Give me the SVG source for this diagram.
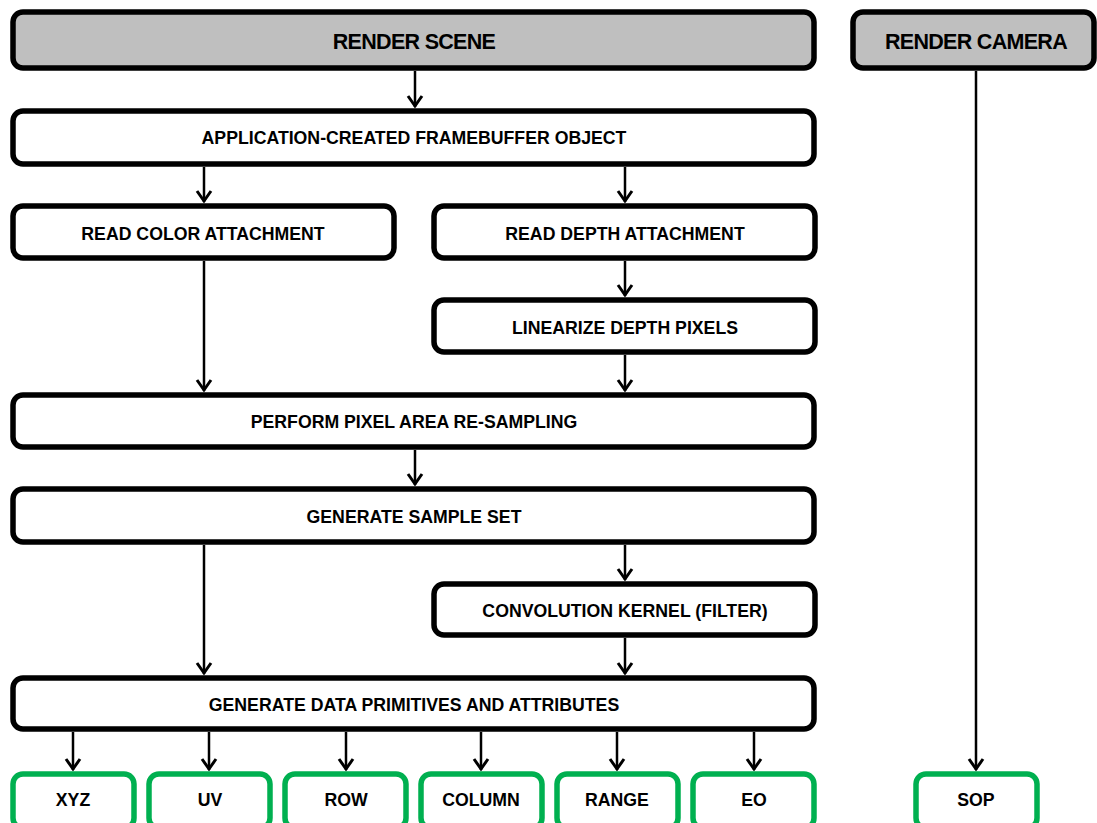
<svg xmlns="http://www.w3.org/2000/svg" width="1097" height="823" viewBox="0 0 1097 823">
<style>
.box{fill:#fff;stroke:#000;stroke-width:5.5}
.head{fill:#bfbfbf;stroke:#000;stroke-width:5.5}
.out{fill:#fff;stroke:#00b050;stroke-width:5.5}
.t{font-family:"Liberation Sans",Arial,sans-serif;font-weight:bold;font-size:17.7px;fill:#000;text-anchor:middle;dominant-baseline:central}
.th{font-family:"Liberation Sans",Arial,sans-serif;font-weight:bold;font-size:21.5px;fill:#000;text-anchor:middle;dominant-baseline:central;letter-spacing:-0.7px}
.c line{stroke:#000;stroke-width:2.5;fill:none;marker-end:url(#ah)}
</style>
<defs>
<marker id="ah" markerUnits="userSpaceOnUse" viewBox="-13 -9 15 18" refX="0" refY="0" markerWidth="15" markerHeight="18" orient="auto">
<path d="M-11,-7 L-1,0 L-11,7" fill="none" stroke="#000" stroke-width="3"/>
</marker>
</defs>
<g class="c" id="connectors">
<line x1="415" y1="71" x2="415" y2="107"/>
<line x1="204" y1="167" x2="204" y2="202"/>
<line x1="625" y1="167" x2="625" y2="202"/>
<line x1="625" y1="261" x2="625" y2="296"/>
<line x1="204" y1="261" x2="204" y2="391"/>
<line x1="625" y1="355" x2="625" y2="391"/>
<line x1="415" y1="450" x2="415" y2="485"/>
<line x1="204" y1="545" x2="204" y2="674"/>
<line x1="625" y1="545" x2="625" y2="580"/>
<line x1="625" y1="638" x2="625" y2="674"/>
<line x1="73" y1="732" x2="73" y2="770"/>
<line x1="209" y1="732" x2="209" y2="770"/>
<line x1="346" y1="732" x2="346" y2="770"/>
<line x1="481" y1="732" x2="481" y2="770"/>
<line x1="617" y1="732" x2="617" y2="770"/>
<line x1="754" y1="732" x2="754" y2="770"/>
<line x1="976" y1="71" x2="976" y2="770"/>
</g>
<g id="render-scene"><rect class="head" x="13" y="12" width="801" height="56" rx="10"/><text class="th" x="414" y="42">RENDER SCENE</text></g>
<g id="render-camera"><rect class="head" x="853" y="12" width="241" height="56" rx="10"/><text class="th" x="976" y="42">RENDER CAMERA</text></g>
<g id="framebuffer"><rect class="box" x="13" y="111" width="801" height="53" rx="10"/><text class="t" x="414" y="138">APPLICATION-CREATED FRAMEBUFFER OBJECT</text></g>
<g id="read-color"><rect class="box" x="13" y="206" width="381" height="52" rx="10"/><text class="t" x="203" y="234">READ COLOR ATTACHMENT</text></g>
<g id="read-depth"><rect class="box" x="434" y="206" width="381" height="52" rx="10"/><text class="t" x="625" y="234">READ DEPTH ATTACHMENT</text></g>
<g id="linearize"><rect class="box" x="434" y="300" width="381" height="52" rx="10"/><text class="t" x="625" y="328">LINEARIZE DEPTH PIXELS</text></g>
<g id="resample"><rect class="box" x="13" y="395" width="801" height="52" rx="10"/><text class="t" x="414" y="422">PERFORM PIXEL AREA RE-SAMPLING</text></g>
<g id="sample-set"><rect class="box" x="13" y="489" width="801" height="53" rx="10"/><text class="t" x="414" y="517">GENERATE SAMPLE SET</text></g>
<g id="convolution"><rect class="box" x="434" y="584" width="381" height="51" rx="10"/><text class="t" x="625" y="611">CONVOLUTION KERNEL (FILTER)</text></g>
<g id="data-primitives"><rect class="box" x="13" y="678" width="801" height="51" rx="10"/><text class="t" x="414" y="705">GENERATE DATA PRIMITIVES AND ATTRIBUTES</text></g>
<g id="xyz"><rect class="out" x="13" y="774" width="121" height="54" rx="10"/><text class="t" x="73" y="800">XYZ</text></g>
<g id="uv"><rect class="out" x="149" y="774" width="121" height="54" rx="10"/><text class="t" x="210" y="800">UV</text></g>
<g id="row"><rect class="out" x="285" y="774" width="121" height="54" rx="10"/><text class="t" x="346" y="800">ROW</text></g>
<g id="column"><rect class="out" x="421" y="774" width="121" height="54" rx="10"/><text class="t" x="481" y="800">COLUMN</text></g>
<g id="range"><rect class="out" x="557" y="774" width="121" height="54" rx="10"/><text class="t" x="617" y="800">RANGE</text></g>
<g id="eo"><rect class="out" x="693" y="774" width="121" height="54" rx="10"/><text class="t" x="754" y="800">EO</text></g>
<g id="sop"><rect class="out" x="916" y="774" width="121" height="54" rx="10"/><text class="t" x="976" y="800">SOP</text></g>
</svg>
